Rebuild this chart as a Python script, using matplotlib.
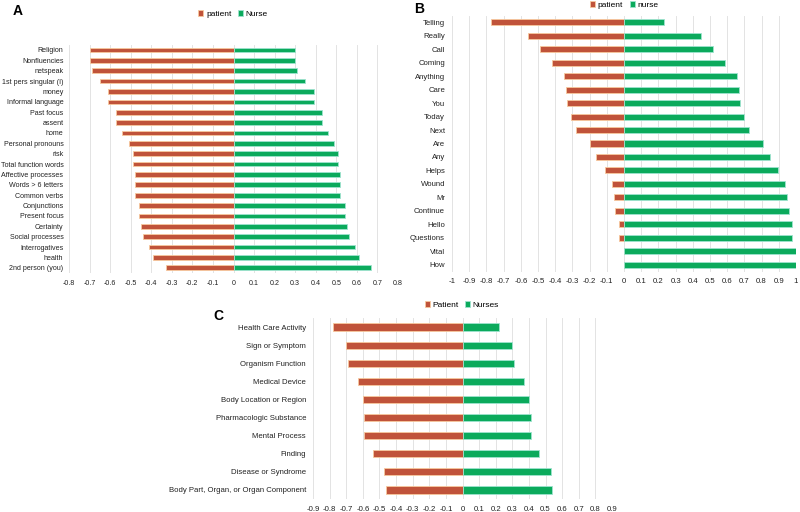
import matplotlib
matplotlib.use("Agg")
import matplotlib.pyplot as plt
import numpy as np

plt.rcParams['font.family'] = ['Liberation Sans', 'DejaVu Sans']

# Panel A
a_cats = ["Religion", "Nonfluencies", "netspeak", "1st pers singular (I)", "money",
          "Informal language", "Past focus", "assent", "home", "Personal pronouns",
          "risk", "Total function words", "Affective processes", "Words > 6 letters",
          "Common verbs", "Conjunctions", "Present focus", "Certainty",
          "Social processes", "Interrogatives", "health", "2nd person (you)"]
a_patient = [-0.70, -0.70, -0.69, -0.65, -0.61, -0.61, -0.57, -0.57, -0.54, -0.51,
             -0.49, -0.49, -0.48, -0.48, -0.48, -0.46, -0.46, -0.45, -0.44, -0.41,
             -0.39, -0.33]
a_nurse = [0.30, 0.30, 0.31, 0.35, 0.39, 0.39, 0.43, 0.43, 0.46, 0.49,
           0.51, 0.51, 0.52, 0.52, 0.52, 0.54, 0.54, 0.55, 0.56, 0.59,
           0.61, 0.67]
a_ticks = [-0.8, -0.7, -0.6, -0.5, -0.4, -0.3, -0.2, -0.1, 0, 0.1, 0.2, 0.3, 0.4, 0.5, 0.6, 0.7, 0.8]

# Panel B
b_cats = ["Telling", "Really", "Call", "Coming", "Anything", "Care", "You", "Today",
          "Next", "Are", "Any", "Helps", "Wound", "Mr", "Continue", "Hello",
          "Questions", "Vital", "How"]
b_patient = [-0.775, -0.56, -0.49, -0.42, -0.35, -0.34, -0.33, -0.31, -0.28, -0.20,
             -0.16, -0.11, -0.07, -0.06, -0.05, -0.03, -0.03, 0.0, 0.0]
b_nurse = [0.23, 0.445, 0.515, 0.585, 0.655, 0.667, 0.676, 0.696, 0.727, 0.806,
           0.847, 0.897, 0.938, 0.948, 0.957, 0.979, 0.979, 1.0, 1.0]
b_ticks = [-1, -0.9, -0.8, -0.7, -0.6, -0.5, -0.4, -0.3, -0.2, -0.1, 0,
           0.1, 0.2, 0.3, 0.4, 0.5, 0.6, 0.7, 0.8, 0.9, 1]

# Panel C
c_cats = ["Health Care Activity", "Sign or Symptom", "Organism Function", "Medical Device",
          "Body Location or Region", "Pharmacologic Substance", "Mental Process",
          "Finding", "Disease or Syndrome", "Body Part, Organ, or Organ Component"]
c_patient = [-0.78, -0.70, -0.69, -0.63, -0.60, -0.59, -0.59, -0.54, -0.47, -0.46]
c_nurse = [0.22, 0.30, 0.31, 0.37, 0.40, 0.41, 0.41, 0.46, 0.53, 0.54]
c_ticks = [-0.9, -0.8, -0.7, -0.6, -0.5, -0.4, -0.3, -0.2, -0.1, 0,
           0.1, 0.2, 0.3, 0.4, 0.5, 0.6, 0.7, 0.8, 0.9]

PAT = "#C0533A"
PAT_EDGE = "#F7C99E"
NUR = "#0BAA5C"
NUR_EDGE = "#9FE3CF"

W, H = 800, 512
fig = plt.figure(figsize=(8, 5.12), dpi=100)


def ax_px(x0, y0, x1, y1):
    return fig.add_axes([x0 / W, 1 - y1 / H, (x1 - x0) / W, (y1 - y0) / H])


def fmt(t):
    if t == 0:
        return "0"
    if abs(t - round(t)) < 1e-9:
        return str(int(round(t)))
    return ("%.1f" % t)


def panel(ax, cats, pat, nur, ticks, xlim, height, labels, fs=5.6, ypad=5):
    n = len(cats)
    y = np.arange(n)
    ax.barh(y, pat, height=height, color=PAT, edgecolor=PAT_EDGE, linewidth=0.6, label=labels[0], zorder=3)
    ax.barh(y, nur, height=height, color=NUR, edgecolor=NUR_EDGE, linewidth=0.6, label=labels[1], zorder=3)
    ax.set_ylim(n - 0.5, -0.5)
    ax.set_xlim(*xlim)
    ax.set_yticks(y)
    ax.set_yticklabels(cats, fontsize=fs, color="#222222")
    ax.set_xticks(ticks)
    ax.set_xticklabels([fmt(t) for t in ticks], fontsize=fs, color="#222222")
    ax.tick_params(axis="x", length=0, pad=5)
    ax.tick_params(axis="y", length=0, pad=ypad)
    ax.grid(axis="x", color="#E3E3E3", linewidth=0.7, zorder=0)
    for s in ax.spines.values():
        s.set_visible(False)


axA = ax_px(69, 44.8, 398, 273)
panel(axA, a_cats, a_patient, a_nurse, a_ticks, (-0.8, 0.8), 0.45, ("patient", "Nurse"), fs=5.1, ypad=4)
axB = ax_px(452, 15.5, 796, 271.5)
panel(axB, b_cats, b_patient, b_nurse, b_ticks, (-1, 1), 0.45, ("patient", "nurse"))
axC = ax_px(313, 318, 612, 499)
panel(axC, c_cats, c_patient, c_nurse, c_ticks, (-0.9, 0.9), 0.4, ("Patient", "Nurses"))

legkw = dict(loc="center", ncol=2, frameon=False, fontsize=6, handlelength=0.6,
             handleheight=0.6, handletextpad=0.3, columnspacing=0.8)
fig.legend(*axA.get_legend_handles_labels(), bbox_to_anchor=(233 / W, 1 - 14 / H), **legkw)
fig.legend(*axB.get_legend_handles_labels(), bbox_to_anchor=(624 / W, 1 - 5 / H), **legkw)
fig.legend(*axC.get_legend_handles_labels(), bbox_to_anchor=(462 / W, 1 - 305 / H), **legkw)

fig.text(13 / W, 1 - 11 / H, "A", fontsize=10, fontweight="bold", va="center")
fig.text(414 / W, 1 - 9 / H, "B", fontsize=10, fontweight="bold", va="center")
fig.text(213 / W, 1 - 316 / H, "C", fontsize=10, fontweight="bold", va="center")

fig.savefig("out.png", dpi=100, facecolor="white")
